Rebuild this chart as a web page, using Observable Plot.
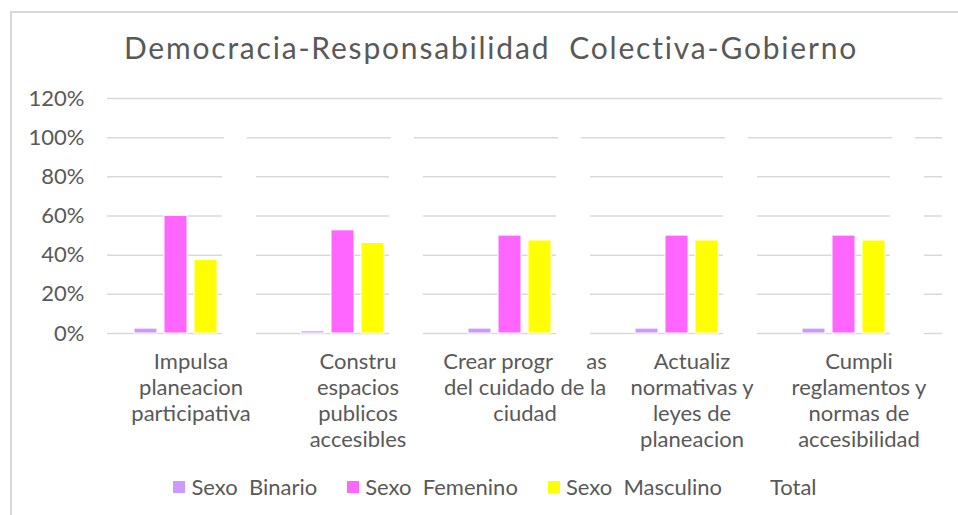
<!DOCTYPE html>
<html><head><meta charset="utf-8">
<script src="https://cdn.jsdelivr.net/npm/d3@7"></script>
<script src="https://cdn.jsdelivr.net/npm/@observablehq/plot@0.6"></script>
<style>
body{margin:0;background:#fff;}
#wrap{position:relative;width:958px;height:515px;overflow:hidden;font-family:Lato,sans-serif;color:#595959;background:#fff;}
#frame{position:absolute;left:10px;top:11px;width:960px;height:520px;border-left:2px solid #d9d9d9;border-top:2px solid #d9d9d9;}
#title{position:absolute;top:29px;left:0;width:958px;padding-left:24px;box-sizing:border-box;text-align:center;font-size:30px;letter-spacing:1.8px;line-height:36px;white-space:pre;}
#chart{position:absolute;left:0;top:80px;}
#legend{position:absolute;top:473px;left:0;width:958px;padding-left:32px;box-sizing:border-box;display:flex;justify-content:center;font-size:22px;line-height:28px;white-space:pre;}
.item{display:flex;align-items:center;margin-right:30px;}
.item:last-child{margin-right:0;}
.sw{width:12px;height:12px;margin-right:6px;}
</style>
</head>
<body>
<div id="wrap">
  <div id="frame"></div>
  <div id="title"></div>
  <div id="chart"></div>
  <div id="legend"></div>
</div>
<script>
const titleText = "Democracia-Responsabilidad  Colectiva-Gobierno";
const categories = [
  "Impulsa\nplaneacion\nparticipativa",
  "Constru\nespacios\npublicos\naccesibles",
  "Crear progr\u00a0\u00a0\u00a0\u00a0\u00a0\u00a0as\ndel cuidado de la\nciudad",
  "Actualiz\nnormativas y\nleyes de\nplaneacion",
  "Cumpli\nreglamentos y\nnormas de\naccesibilidad"
];
const series = ["Sexo  Binario", "Sexo  Femenino", "Sexo  Masculino", "Total"];
const binario   = [0.025, 0.011, 0.025, 0.025, 0.025];
const femenino  = [0.600, 0.527, 0.500, 0.500, 0.500];
const masculino = [0.375, 0.462, 0.475, 0.475, 0.475];
const total     = [1, 1, 1, 1, 1];
const yTicks = [0, 0.2, 0.4, 0.6, 0.8, 1.0, 1.2];
const colors = ["#cc99ff", "#ff66ff", "#ffff00", "#ffffff"];

const seriesValues = [binario, femenino, masculino, total];
const rows = [];
categories.forEach((c, i) => {
  series.forEach((s, j) => rows.push({category: c, series: s, value: seriesValues[j][i]}));
});
const colored = rows.filter(d => d.series !== "Total");
const totals = rows.filter(d => d.series === "Total");

document.getElementById("title").textContent = titleText;

const chart = Plot.plot({
  width: 958,
  height: 380,
  marginTop: 18,
  marginBottom: 127,
  marginLeft: 105,
  marginRight: 15,
  fx: {domain: categories, padding: 0, label: null},
  x: {domain: series, paddingInner: 0.24, paddingOuter: 0.89, axis: null},
  y: {domain: [0, 1.2], label: null},
  color: {domain: series, range: colors},
  style: {fontFamily: "Lato, sans-serif", color: "#595959", background: "transparent", overflow: "visible"},
  marks: [
    Plot.ruleY(yTicks, {stroke: "#d9d9d9", strokeWidth: 1.5}),
    Plot.barY(totals, {fx: "category", x: "series", y: "value", fill: "white", insetLeft: -2, insetRight: -9, insetTop: 4, insetBottom: -2}),
    Plot.barY(totals, {fx: "category", x: "series", y: "value", fill: "white", insetTop: -1}),
    Plot.barY(colored, {fx: "category", x: "series", y: "value", fill: "series", stroke: "white", strokeWidth: 1}),
    Plot.axisY(yTicks, {tickSize: 0, tickPadding: 23, tickFormat: d3.format(".0%"), fontSize: 22, label: null, fill: "#595959"}),
    Plot.axisFx({anchor: "bottom", tickSize: 0, tickPadding: 17, fontSize: 22, lineHeight: 1.18, label: null, fill: "#595959"})
  ]
});
document.getElementById("chart").appendChild(chart);

const legend = document.getElementById("legend");
series.forEach((s, i) => {
  const item = document.createElement("div");
  item.className = "item";
  const sw = document.createElement("div");
  sw.className = "sw";
  sw.style.background = colors[i];
  const t = document.createElement("span");
  t.textContent = s;
  item.appendChild(sw);
  item.appendChild(t);
  legend.appendChild(item);
});
</script>
</body></html>
